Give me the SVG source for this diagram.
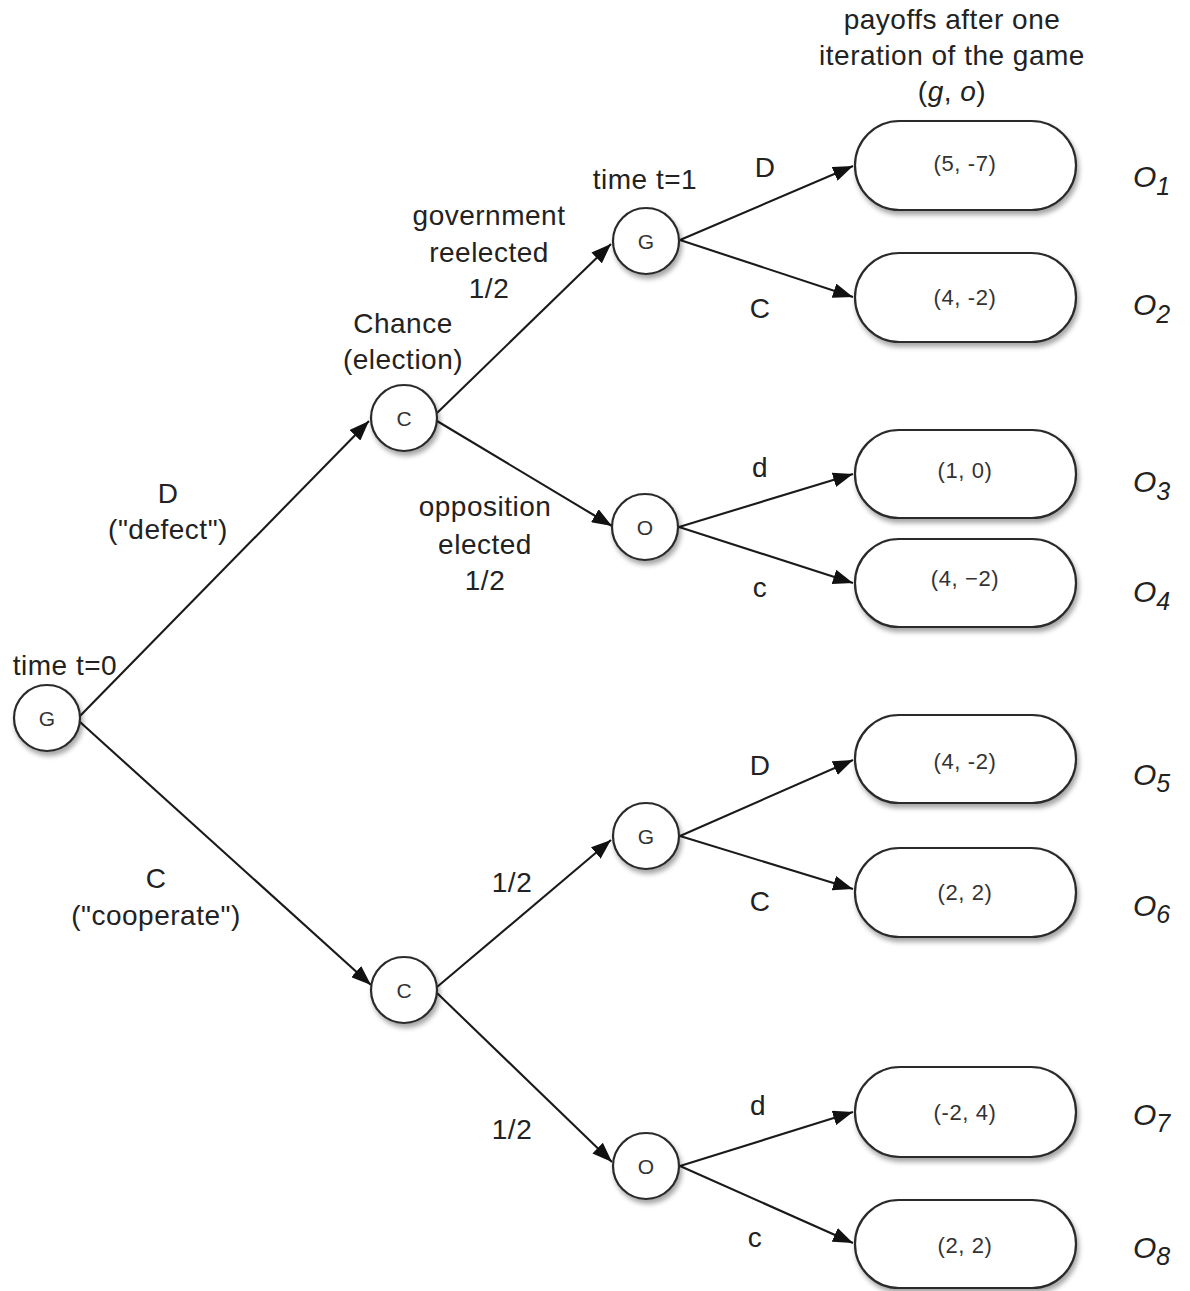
<svg xmlns="http://www.w3.org/2000/svg" width="1190" height="1291" viewBox="0 0 1190 1291">
<defs>
<filter id="sh" x="-20%" y="-20%" width="150%" height="160%">
<feDropShadow dx="2" dy="4" stdDeviation="2.5" flood-color="#000" flood-opacity="0.35"/>
</filter>
<marker id="ah" markerUnits="userSpaceOnUse" markerWidth="21" markerHeight="15" refX="20" refY="7.5" orient="auto">
<path d="M0,0 L20,7.5 L0,15 z" fill="#111"/>
</marker>
<style>
.n{fill:#fff;stroke:#2a2a2a;stroke-width:2.2;filter:url(#sh)}
.nt{font-family:"Liberation Sans",Arial,sans-serif;font-size:21px;fill:#333;text-anchor:middle}
.bt{font-family:"Liberation Sans",Arial,sans-serif;font-size:22px;letter-spacing:0.6px;fill:#333;text-anchor:middle}
.lb{font-family:"Liberation Sans",Arial,sans-serif;font-size:28px;letter-spacing:0.5px;fill:#222;text-anchor:middle}
.ol{font-family:"Liberation Sans",Arial,sans-serif;font-size:30px;font-style:italic;fill:#222}
.sub{font-size:25px}
.e{stroke:#1a1a1a;stroke-width:2.1;fill:none;marker-end:url(#ah)}
</style>
</defs>
<rect width="1190" height="1291" fill="#fff"/>

<g id="connectors">
<path class="e" d="M80,716 L369,421"/>
<path class="e" d="M80,722 L371,985"/>
<path class="e" d="M437,413 L611,244"/>
<path class="e" d="M437,421 L612,526"/>
<path class="e" d="M680,240 L853,166"/>
<path class="e" d="M680,240 L853,297"/>
<path class="e" d="M679,527 L853,474"/>
<path class="e" d="M679,527 L853,583"/>
<path class="e" d="M437,987 L611,840"/>
<path class="e" d="M437,993 L612,1162"/>
<path class="e" d="M680,836 L853,760"/>
<path class="e" d="M680,836 L853,889"/>
<path class="e" d="M680,1166 L853,1112"/>
<path class="e" d="M680,1166 L853,1243"/>
</g>

<g id="node-g0"><circle class="n" cx="47" cy="718" r="33"/><text class="nt" x="47" y="726">G</text></g>
<g id="node-c-top"><circle class="n" cx="404" cy="418" r="33"/><text class="nt" x="404" y="426">C</text></g>
<g id="node-g-top"><circle class="n" cx="646" cy="241" r="33"/><text class="nt" x="646" y="249">G</text></g>
<g id="node-o-top"><circle class="n" cx="645" cy="527" r="33"/><text class="nt" x="645" y="535">O</text></g>
<g id="node-c-bot"><circle class="n" cx="404" cy="990" r="33"/><text class="nt" x="404" y="998">C</text></g>
<g id="node-g-bot"><circle class="n" cx="646" cy="836" r="33"/><text class="nt" x="646" y="844">G</text></g>
<g id="node-o-bot"><circle class="n" cx="646" cy="1166" r="33"/><text class="nt" x="646" y="1174">O</text></g>

<g id="box-1"><rect class="n" x="855" y="121" width="221" height="89" rx="44.5"/><text class="bt" x="965" y="171">(5, -7)</text></g>
<g id="box-2"><rect class="n" x="855" y="253" width="221" height="89" rx="44.5"/><text class="bt" x="965" y="305">(4, -2)</text></g>
<g id="box-3"><rect class="n" x="855" y="430" width="221" height="88" rx="44"/><text class="bt" x="965" y="478">(1, 0)</text></g>
<g id="box-4"><rect class="n" x="855" y="539" width="221" height="88" rx="44"/><text class="bt" x="965" y="586">(4, −2)</text></g>
<g id="box-5"><rect class="n" x="855" y="715" width="221" height="88" rx="44"/><text class="bt" x="965" y="769">(4, -2)</text></g>
<g id="box-6"><rect class="n" x="855" y="848" width="221" height="89" rx="44.5"/><text class="bt" x="965" y="900">(2, 2)</text></g>
<g id="box-7"><rect class="n" x="855" y="1067" width="221" height="90" rx="45"/><text class="bt" x="965" y="1120">(-2, 4)</text></g>
<g id="box-8"><rect class="n" x="855" y="1200" width="221" height="88" rx="44"/><text class="bt" x="965" y="1253">(2, 2)</text></g>

<g id="outcomes">
<text class="ol" x="1133" y="187">O<tspan class="sub" dy="8">1</tspan></text>
<text class="ol" x="1133" y="315">O<tspan class="sub" dy="8">2</tspan></text>
<text class="ol" x="1133" y="492">O<tspan class="sub" dy="8">3</tspan></text>
<text class="ol" x="1133" y="602">O<tspan class="sub" dy="8">4</tspan></text>
<text class="ol" x="1133" y="785">O<tspan class="sub" dy="7">5</tspan></text>
<text class="ol" x="1133" y="916">O<tspan class="sub" dy="7">6</tspan></text>
<text class="ol" x="1133" y="1125">O<tspan class="sub" dy="7">7</tspan></text>
<text class="ol" x="1133" y="1258">O<tspan class="sub" dy="7">8</tspan></text>
</g>

<g id="labels">
<text class="lb" x="952" y="29">payoffs after one</text>
<text class="lb" x="952" y="65">iteration of the game</text>
<text class="lb" x="952" y="101">(<tspan font-style="italic">g</tspan>, <tspan font-style="italic">o</tspan>)</text>
<text class="lb" x="645" y="189">time t=1</text>
<text class="lb" x="765" y="177">D</text>
<text class="lb" x="760" y="318">C</text>
<text class="lb" x="489" y="225">government</text>
<text class="lb" x="489" y="262">reelected</text>
<text class="lb" x="489" y="298">1/2</text>
<text class="lb" x="403" y="333">Chance</text>
<text class="lb" x="403" y="369">(election)</text>
<text class="lb" x="168" y="503">D</text>
<text class="lb" x="168" y="539">("defect")</text>
<text class="lb" x="485" y="516">opposition</text>
<text class="lb" x="485" y="554">elected</text>
<text class="lb" x="485" y="590">1/2</text>
<text class="lb" x="760" y="477">d</text>
<text class="lb" x="760" y="597">c</text>
<text class="lb" x="65" y="675">time t=0</text>
<text class="lb" x="760" y="775">D</text>
<text class="lb" x="760" y="911">C</text>
<text class="lb" x="512" y="892">1/2</text>
<text class="lb" x="156" y="888">C</text>
<text class="lb" x="156" y="925">("cooperate")</text>
<text class="lb" x="512" y="1139">1/2</text>
<text class="lb" x="758" y="1115">d</text>
<text class="lb" x="755" y="1247">c</text>
</g>
</svg>
